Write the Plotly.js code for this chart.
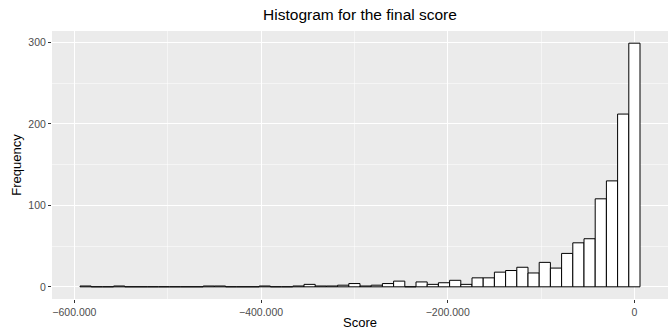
<!DOCTYPE html>
<html>
<head>
<meta charset="utf-8">
<script src="https://cdn.plot.ly/plotly-3.0.1.min.js"></script>
<style>html,body{margin:0;padding:0;background:#fff;}#chart{width:670px;height:330px;}</style>
</head>
<body>
<div id="chart"></div>
<script>
// Bin centres (score) and counts (bin width 12.000)
const binCenters = [-588000,-576000,-564000,-552000,-540000,-528000,-516000,-504000,-492000,-480000,
  -468000,-456000,-444000,-432000,-420000,-408000,-396000,-384000,-372000,-360000,
  -348000,-336000,-324000,-312000,-300000,-288000,-276000,-264000,-252000,-240000,
  -228000,-216000,-204000,-192000,-180000,-168000,-156000,-144000,-132000,-120000,
  -108000,-96000,-84000,-72000,-60000,-48000,-36000,-24000,-12000,0];
const frequencies = [1,0,0,1,0,0,0,0,0,0,
  0,1,1,0,0,0,1,0,0,1,
  3,1,1,2,4,1,2,4,7,0,
  6,3,5,8,3,11,11,18,20,24,
  17,30,23,41,54,59,108,130,212,299];
const binWidth = 12000;
const xTickVals = [-600000,-400000,-200000,0];
const xTickText = ["\u2212600.000","\u2212400.000","\u2212200.000","0"];
const yTickVals = [0,100,200,300];
const yTickText = ["0","100","200","300"];

const trace = {
  type: 'bar',
  x: binCenters,
  y: frequencies,
  width: binWidth,
  marker: {color: '#ffffff', line: {color: '#000000', width: 1}},
  hoverinfo: 'x+y'
};

const font = "'Liberation Sans', Arial, sans-serif";
const layout = {
  width: 670, height: 330,
  margin: {l: 52, r: 2, t: 31, b: 31, pad: 0},
  paper_bgcolor: '#ffffff',
  plot_bgcolor: '#EBEBEB',
  font: {family: font, color: '#4D4D4D', size: 10.5},
  title: {text: 'Histogram for the final score', font: {family: font, size: 15.5, color: '#000000'},
          x: 0.5, xref: 'paper', xanchor: 'center', y: 0.955, yref: 'container', yanchor: 'middle'},
  showlegend: false,
  bargap: 0,
  xaxis: {
    range: [-624000, 36000],
    tickvals: xTickVals, ticktext: xTickText,
    ticks: 'outside', ticklen: 3, tickwidth: 1, tickcolor: '#333333',
    showgrid: true, gridcolor: '#ffffff', gridwidth: 1.1,
    minor: {tickvals: [-500000,-300000,-100000], showgrid: true, gridcolor: '#ffffff', gridwidth: 0.5, ticks: ''},
    zeroline: false, showline: false,
    title: {text: 'Score', font: {family: font, size: 13, color: '#000000'}, standoff: 1},
    tickfont: {family: font, size: 10.5, color: '#4D4D4D'}
  },
  yaxis: {
    range: [-14.95, 313.95],
    tickvals: yTickVals, ticktext: yTickText,
    ticks: 'outside', ticklen: 3, tickwidth: 1, tickcolor: '#333333',
    showgrid: true, gridcolor: '#ffffff', gridwidth: 1.1,
    minor: {tickvals: [50,150,250], showgrid: true, gridcolor: '#ffffff', gridwidth: 0.5, ticks: ''},
    zeroline: false, showline: false,
    title: {text: 'Frequency', font: {family: font, size: 13, color: '#000000'}, standoff: 3},
    tickfont: {family: font, size: 10.5, color: '#4D4D4D'}
  }
};

Plotly.newPlot('chart', [trace], layout, {displayModeBar: false, staticPlot: true});
</script>
</body>
</html>
